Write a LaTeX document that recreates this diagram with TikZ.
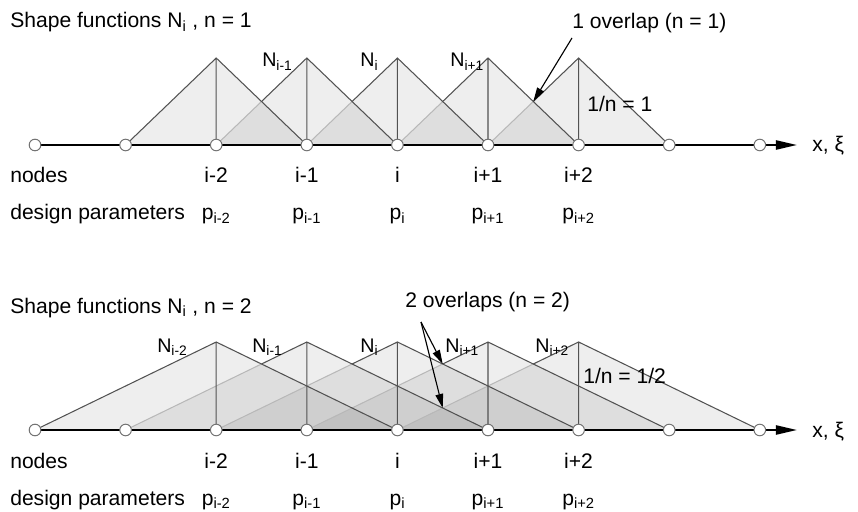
\documentclass[tikz,border=0pt]{standalone}
\usepackage{fontspec}
\setmainfont{Liberation Sans}
\usetikzlibrary{calc,arrows.meta}
\newcommand{\ix}[1]{\textsubscript{#1}}

\begin{document}
\begin{tikzpicture}[x=0.025cm,y=-0.025cm,
  every node/.style={inner sep=0pt,font=\fontsize{15}{18}\selectfont},
  lab/.style={anchor=base west},
  nlab/.style={anchor=base west,font=\fontsize{14}{16}\selectfont},
  shade/.style={fill=black,fill opacity=0.065},
  edge/.style={draw=black!68,line width=0.75pt},
  hidden/.style={draw=black!28,line width=0.75pt},
  knot/.style={circle,draw=black!55,fill=white,line width=0.7pt,minimum size=0.29cm},
  axis/.style={line width=1.4pt,-{Triangle[length=15pt,width=6.5pt]}},
  pointer/.style={line width=0.8pt,-{Triangle[length=10pt,width=5.5pt]}}]
  \useasboundingbox (0,0) rectangle (858,512);
  \foreach \dg/\bs/\pk/\nn/\fr in {u/145/58/1/0.5,l/430/342/2/0.75}{
    \pgfmathtruncatemacro\st{2-\nn}
    \foreach \j in {0,...,8} \coordinate (\dg a\j) at (35+90.6*\j,\bs);
    \foreach \j in {2,...,6} \coordinate (\dg t\j) at (35+90.6*\j,\pk);
    \coordinate (\dg e) at (797,\bs);
    \foreach \j [evaluate=\j as \lo using int(\j-\nn), evaluate=\j as \ro using int(\j+\nn)] in {2,...,6}{
      \fill[shade] (\dg a\lo) -- (\dg t\j) -- (\dg a\ro) -- cycle;
      \coordinate (\dg m\j) at ($(\dg a\lo)!\fr!(\dg t\j)$);
    }
    \foreach \j [evaluate=\j as \lo using int(\j-\nn)] in {3,...,6}
      \draw[hidden] (\dg a\lo) -- (\dg m\j);
    \draw[edge] (\dg a\st) -- (\dg m2);
    \foreach \j [evaluate=\j as \ro using int(\j+\nn)] in {2,...,6}
      \draw[edge] (\dg m\j) -- (\dg t\j) -- (\dg a\ro) (\dg t\j) -- (\dg a\j);
    \draw[axis] (\dg a0) -- (\dg e);
    \foreach \j in {0,...,8} \node[knot] (\dg k\j) at (\dg a\j) {};
    \foreach \j/\t in {2/i-2,3/i-1,4/i,5/i+1,6/i+2}{
      \node[anchor=base] (\dg i\j) at (35+90.6*\j,\bs+38) {\t};
      \node[anchor=base] (\dg p\j) at (35+90.6*\j,\bs+75) {p\ix{\t}};
    }
    \node[lab] (\dg nodes) at (10,\bs+38) {nodes};
    \node[lab] (\dg dp) at (10,\bs+75) {design parameters};
    \node[lab] (\dg x) at (812,\bs+7) {x, ξ};
  }

  \node[lab] (h1) at (10,28) {Shape functions N\ix{i} , n = 1};
  \node[nlab] (uN3) at (262,67) {N\ix{i-1}};
  \node[nlab] (uN4) at (360,67) {N\ix{i}};
  \node[nlab] (uN5) at (450,67) {N\ix{i+1}};
  \node[lab] (r1) at (587,112) {1/n = 1};
  \node[lab] (o1) at (572,29) {1 overlap (n = 1)};
  \coordinate (s1) at (572,38);
  \draw[pointer] (s1) -- (um6);

  \node[lab] (h2) at (10,313) {Shape functions N\ix{i} , n = 2};
  \node[nlab] (lN2) at (157,352) {N\ix{i-2}};
  \node[nlab] (lN3) at (252,352) {N\ix{i-1}};
  \node[nlab] (lN4) at (360,352) {N\ix{i}};
  \node[nlab] (lN5) at (445,352) {N\ix{i+1}};
  \node[nlab] (lN6) at (535,352) {N\ix{i+2}};
  \node[lab] (r2) at (583,383) {1/n = 1/2};
  \node[lab] (o2) at (405,308) {2 overlaps (n = 2)};
  \coordinate (s2) at (421,322);
  \coordinate (lq) at ($(la4)!0.25!(lt6)$);
  \draw[pointer] (s2) -- (lm5);
  \draw[pointer] (s2) -- (lq);
\end{tikzpicture}
\end{document}
